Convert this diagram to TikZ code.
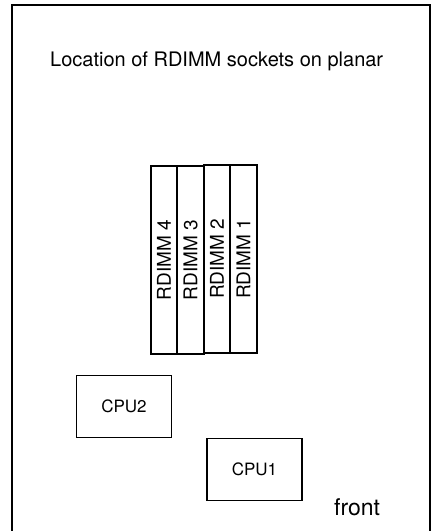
\documentclass[tikz,border=0pt]{standalone}
\usepackage{fontspec}
\setmainfont{TeX Gyre Heros}
\usetikzlibrary{positioning}

\begin{document}
\begin{tikzpicture}[
    x=1pt, y=-1pt,
    node distance=0pt,
    socket/.style={draw, rectangle, line width=1.8pt, outer sep=0pt, inner sep=0pt, minimum width=26.5pt, minimum height=188pt, font=\fontsize{19}{22}\selectfont},
    cpu/.style={draw, rectangle, line width=1.6pt, inner sep=0pt, minimum width=95pt, minimum height=62pt, font=\fontsize{17}{20}\selectfont},
    caption/.style={inner sep=0pt, font=\fontsize{20}{24}\selectfont}
]
    \useasboundingbox (0,0) rectangle (433,531);

    % Planar outline, open at the bottom
    \draw[line width=2pt] (12,531) -- (12,5) -- (430,5) -- (430,531);

    \node[caption, anchor=base west] (title) at (50,66) {Location of RDIMM sockets on planar};

    % Sockets
    \node[socket] (rdimm4) at (164,260) {\rotatebox{90}{RDIMM 4}};
    \node[socket, right=of rdimm4] (rdimm3) {\rotatebox{90}{RDIMM 3}};
    \node[socket, right=of rdimm3, yshift=1.2pt] (rdimm2) {\rotatebox{90}{RDIMM 2}};
    \node[socket, right=of rdimm2] (rdimm1) {\rotatebox{90}{RDIMM 1}};

    % Processors
    \node[cpu] (cpu2) at (124,406.5) {CPU2};
    \node[cpu] (cpu1) at (254.5,469.5) {CPU1};

    \node[caption, anchor=base west, font=\fontsize{23}{27}\selectfont] (front) at (334,515) {front};

\end{tikzpicture}
\end{document}
